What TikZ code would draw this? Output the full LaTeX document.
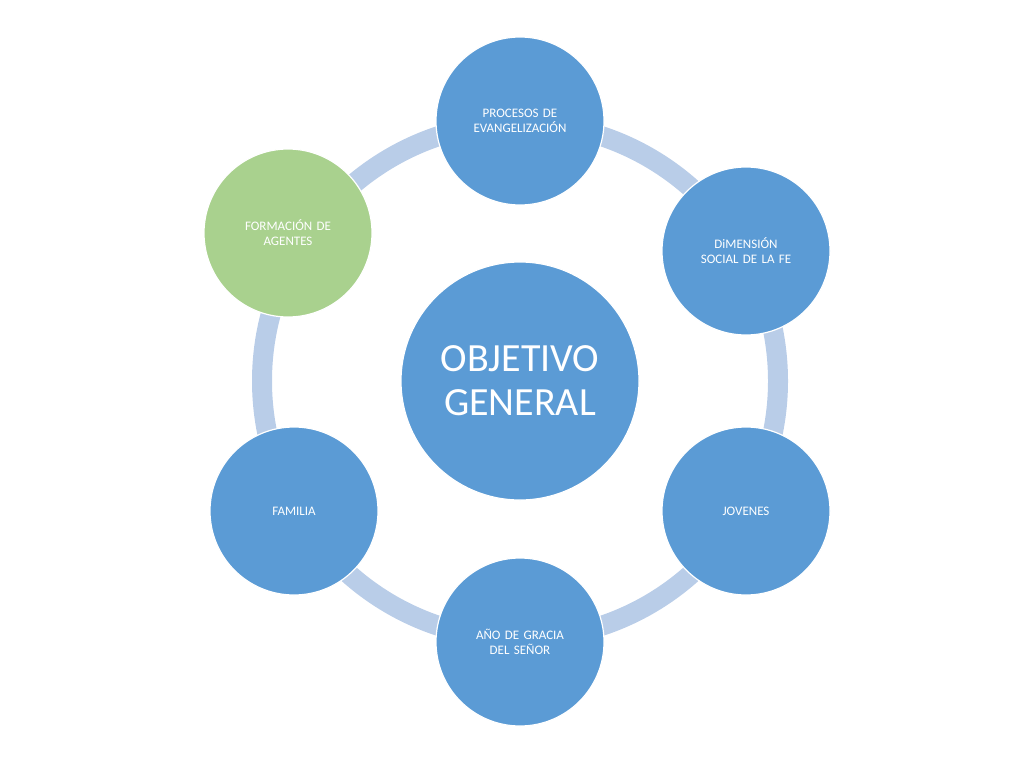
\documentclass[tikz,border=0pt]{standalone}
\usepackage{fontspec}
\setmainfont{Carlito}
\definecolor{blu}{HTML}{5B9BD5}
\definecolor{grn}{HTML}{A9D18E}
\definecolor{ring}{HTML}{B9CDE8}
\begin{document}
\begin{tikzpicture}[x=1pt,y=-1pt,
  sat/.style={circle,draw=white,line width=1.2pt,fill=blu,minimum size=168pt,inner sep=0pt,text=white,font=\fontsize{13}{15}\selectfont,align=center,text width=120pt}]
\useasboundingbox (0,0) rectangle (1024,768);
\draw[ring,line width=20pt] (520,381) circle (258);
\node[sat,minimum size=238pt,text width=200pt,font=\fontsize{40}{44}\selectfont] (c) at (520,381) {OBJETIVO\\GENERAL};
\node[sat] (a) at (520,121) {PROCESOS DE\\EVANGELIZACIÓN\\[14pt]};
\node[sat] (b) at (746,251) {DiMENSIÓN\\SOCIAL DE LA FE\\[14pt]};
\node[sat] (d) at (746,511) {JOVENES};
\node[sat] (e) at (520,642) {AÑO DE GRACIA\\DEL SEÑOR};
\node[sat] (f) at (294,511) {FAMILIA};
\node[sat,fill=grn] (g) at (288,233) {FORMACIÓN DE\\AGENTES\\[14pt]};
\end{tikzpicture}
\end{document}
